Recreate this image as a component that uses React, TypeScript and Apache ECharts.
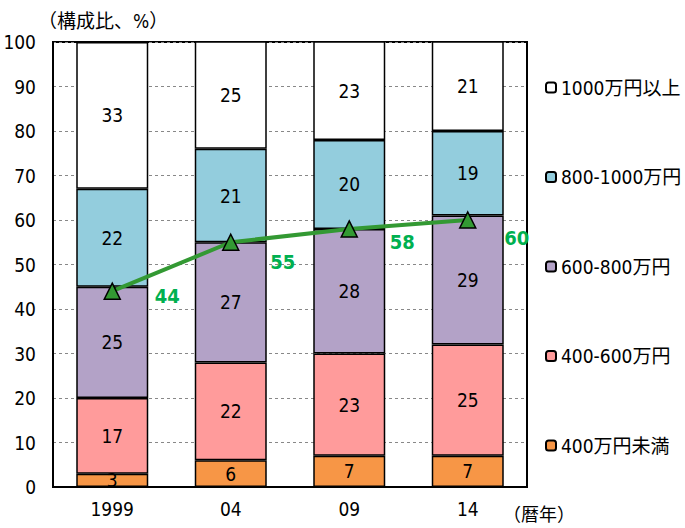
import React, { useEffect, useRef } from "react";
import * as echarts from "echarts";

// 世帯年収階級別の構成比（%）
const years = ["1999", "04", "09", "14"];
const under400 = [3, 6, 7, 7];
const r400to600 = [17, 22, 23, 25];
const r600to800 = [25, 27, 28, 29];
const r800to1000 = [22, 21, 20, 19];
const over1000 = [33, 25, 23, 21];
// 600万円以上の割合（折れ線）
const share600plus = [44, 55, 58, 60];
const lineLabelOffsets = [
  [55, 5],
  [52, 20],
  [53, 13],
  [49, 18],
];

const seriesNames = ["400万円未満", "400-600万円", "600-800万円", "800-1000万円", "1000万円以上"];
const seriesColors = ["#F79646", "#FF9B9B", "#B3A2C7", "#93CDDD", "#FFFFFF"];
const seriesValues = [under400, r400to600, r600to800, r800to1000, over1000];

const FONT = "'DejaVu Sans Condensed', 'Noto Sans CJK JP', sans-serif";

export default function App() {
  const ref = useRef<HTMLDivElement>(null);

  useEffect(() => {
    if (!ref.current) return;
    const chart = echarts.init(ref.current, undefined, { renderer: "svg" });

    const bars = seriesValues.map((vals, i) => ({
      name: seriesNames[i],
      type: "bar",
      stack: "total",
      barWidth: 72,
      data: vals,
      itemStyle: { color: seriesColors[i], borderColor: "#000", borderWidth: 1.5 },
      label: {
        show: true,
        position: "inside",
        color: "#000",
        fontSize: 19,
        fontFamily: FONT,
      },
      z: 2,
    }));

    chart.setOption({
      animation: false,
      textStyle: { fontFamily: FONT },
      grid: {
        left: 53,
        right: 158,
        top: 42,
        bottom: 41,
        show: true,
        borderColor: "#000",
        borderWidth: 2,
        backgroundColor: "transparent",
      },
      legend: {
        orient: "vertical",
        left: 540,
        top: 73,
        itemWidth: 10,
        itemHeight: 10,
        itemGap: 70.5,
        data: [...seriesNames].reverse(),
        textStyle: { fontSize: 19, color: "#000", fontFamily: FONT },
      },
      xAxis: {
        type: "category",
        data: years,
        axisLine: { lineStyle: { color: "#000", width: 2 } },
        axisTick: { show: false },
        axisLabel: { color: "#000", fontSize: 19, margin: 12, fontFamily: FONT },
      },
      yAxis: {
        type: "value",
        min: 0,
        max: 100,
        interval: 10,
        axisLine: { show: true, lineStyle: { color: "#000", width: 2 } },
        axisTick: { show: false },
        axisLabel: { color: "#000", fontSize: 19, margin: 17, fontFamily: FONT },
        splitLine: { show: true, lineStyle: { color: "#888", type: [3, 3], width: 1 } },
      },
      graphic: [
        {
          type: "text",
          left: 38,
          top: 11,
          style: { text: "（構成比、%）", fontSize: 19, fill: "#000", fontFamily: FONT },
        },
        {
          type: "text",
          left: 503,
          top: 505,
          style: { text: "（暦年）", fontSize: 18, fill: "#000", fontFamily: FONT },
        },
      ],
      series: [
        ...bars,
        {
          name: "600万円以上",
          type: "line",
          data: share600plus.map((v, i) => ({
            value: v,
            label: { offset: lineLabelOffsets[i] },
          })),
          symbol: "triangle",
          symbolSize: 16,
          lineStyle: { color: "#339933", width: 4 },
          itemStyle: { color: "#339933", borderColor: "#000", borderWidth: 1.5 },
          label: {
            show: true,
            position: "inside",
            color: "#00B050",
            fontSize: 20,
            fontWeight: "bold",
            fontFamily: FONT,
          },
          z: 5,
        },
      ],
    });

    return () => chart.dispose();
  }, []);

  return (
    <div
      ref={ref}
      style={{ position: "fixed", left: 0, top: 0, width: 685, height: 528, background: "#fff" }}
    />
  );
}
